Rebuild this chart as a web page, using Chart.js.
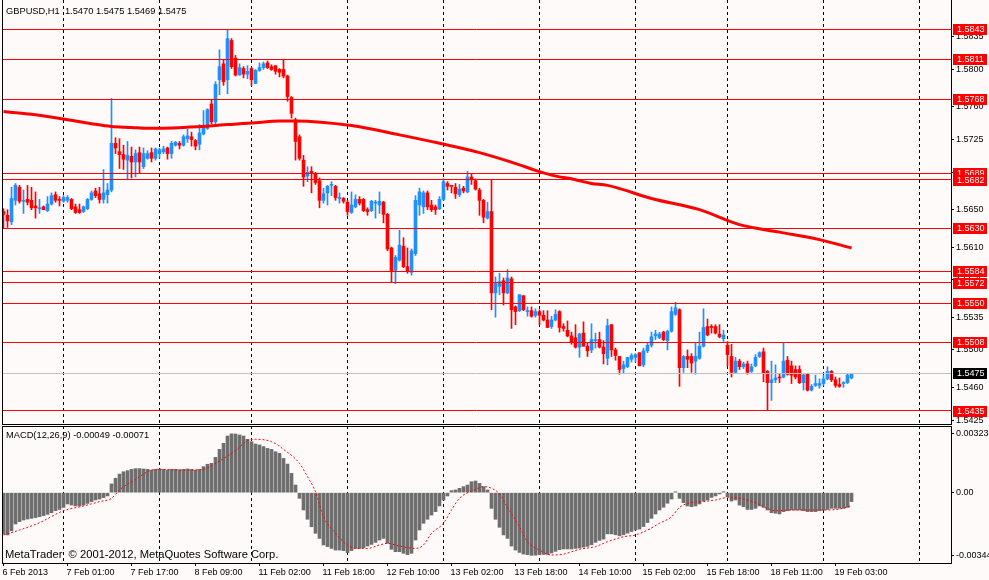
<!DOCTYPE html>
<html><head><meta charset="utf-8">
<script src="https://cdn.jsdelivr.net/npm/chart.js@4.4.1/dist/chart.umd.min.js"></script>
<style>
html,body{margin:0;padding:0;background:#FFFAFA;}
body{width:989px;height:580px;position:relative;overflow:hidden;font-family:"Liberation Sans",Arial,sans-serif;}
#wrapP{position:absolute;left:0;top:0;width:989px;height:425px;}
#wrapM{position:absolute;left:0;top:425px;width:989px;height:155px;}
.txt{position:absolute;white-space:pre;color:#000;font-size:9.3px;line-height:11px;pointer-events:none;}
</style></head><body>
<div id="wrapP"><canvas id="price" width="989" height="425"></canvas></div>
<div id="wrapM"><canvas id="macd" width="989" height="155"></canvas></div>
<div class="txt" style="left:6px;top:6px">GBPUSD,H1  1.5470 1.5475 1.5469 1.5475</div>
<div class="txt" style="left:6px;top:430px">MACD(12,26,9) -0.00049 -0.00071</div>
<div class="txt" style="left:5px;top:548px;font-size:11.2px;line-height:13px">MetaTrader  © 2001-2012, MetaQuotes Software Corp.</div>
<script>
// ---------- DATA ----------
const opens = [
1.5648,1.5644,1.5637,1.5660,1.5674,1.5659,1.5661,1.5660,1.5654,1.5651,
1.5653,1.5649,1.5656,1.5666,1.5661,1.5659,1.5660,1.5661,1.5653,1.5650,
1.5648,1.5651,1.5661,1.5670,1.5667,1.5661,1.5666,1.5671,1.5721,1.5712,
1.5709,1.5703,1.5707,1.5701,1.5711,1.5696,1.5705,1.5711,1.5705,1.5710,
1.5712,1.5716,1.5710,1.5719,1.5721,1.5719,1.5726,1.5728,1.5724,1.5720,
1.5731,1.5737,1.5763,1.5744,1.5789,1.5806,1.5789,1.5831,1.5812,1.5794,
1.5801,1.5795,1.5801,1.5785,1.5799,1.5802,1.5807,1.5803,1.5804,1.5800,
1.5800,1.5793,1.5770,1.5746,1.5728,1.5703,1.5686,1.5691,1.5688,1.5681,
1.5660,1.5668,1.5676,1.5675,1.5662,1.5662,1.5658,1.5647,1.5653,1.5661,
1.5661,1.5650,1.5649,1.5657,1.5655,1.5658,1.5645,1.5609,1.5585,1.5596,
1.5611,1.5589,1.5583,1.5603,1.5655,1.5653,1.5668,1.5655,1.5653,1.5651,
1.5661,1.5678,1.5676,1.5674,1.5666,1.5673,1.5669,1.5685,1.5681,1.5671,
1.5660,1.5641,1.5648,1.5561,1.5568,1.5574,1.5561,1.5576,1.5546,1.5542,
1.5558,1.5541,1.5542,1.5537,1.5541,1.5537,1.5532,1.5525,1.5532,1.5541,
1.5525,1.5521,1.5515,1.5513,1.5503,1.5518,1.5504,1.5500,1.5510,1.5511,
1.5503,1.5491,1.5527,1.5500,1.5493,1.5480,1.5482,1.5490,1.5492,1.5497,
1.5484,1.5499,1.5505,1.5515,1.5513,1.5519,1.5510,1.5520,1.5538,1.5543,
1.5481,1.5493,1.5493,1.5488,1.5491,1.5504,1.5525,1.5525,1.5525,1.5517,
1.5512,1.5505,1.5493,1.5476,1.5488,1.5482,1.5485,1.5477,1.5483,1.5493,
1.5498,1.5477,1.5465,1.5468,1.5471,1.5471,1.5489,1.5483,1.5479,1.5479,
1.5465,1.5475,1.5457,1.5462,1.5462,1.5464,1.5469,1.5477,1.5468,1.5463,
1.5464,1.5465,1.5470];
const highs = [
1.5651,1.5650,1.5674,1.5678,1.5676,1.5671,1.5676,1.5674,1.5669,1.5661,
1.5654,1.5664,1.5668,1.5669,1.5664,1.5665,1.5665,1.5662,1.5656,1.5656,
1.5654,1.5662,1.5670,1.5673,1.5674,1.5693,1.5678,1.5769,1.5727,1.5726,
1.5719,1.5723,1.5717,1.5714,1.5717,1.5716,1.5713,1.5716,1.5716,1.5716,
1.5718,1.5717,1.5723,1.5723,1.5723,1.5730,1.5736,1.5733,1.5725,1.5741,
1.5756,1.5758,1.5768,1.5787,1.5821,1.5810,1.5842,1.5833,1.5815,1.5806,
1.5803,1.5804,1.5802,1.5800,1.5807,1.5808,1.5809,1.5805,1.5804,1.5801,
1.5811,1.5794,1.5771,1.5748,1.5730,1.5708,1.5696,1.5696,1.5690,1.5684,
1.5673,1.5676,1.5680,1.5676,1.5668,1.5663,1.5660,1.5669,1.5666,1.5664,
1.5662,1.5652,1.5660,1.5660,1.5669,1.5659,1.5646,1.5610,1.5601,1.5628,
1.5620,1.5609,1.5608,1.5665,1.5673,1.5670,1.5670,1.5660,1.5655,1.5664,
1.5683,1.5680,1.5676,1.5678,1.5677,1.5675,1.5691,1.5688,1.5683,1.5673,
1.5661,1.5658,1.5682,1.5578,1.5582,1.5577,1.5586,1.5578,1.5547,1.5559,
1.5558,1.5546,1.5546,1.5544,1.5543,1.5542,1.5542,1.5536,1.5543,1.5542,
1.5528,1.5531,1.5519,1.5527,1.5518,1.5530,1.5507,1.5528,1.5518,1.5519,
1.5510,1.5533,1.5527,1.5502,1.5493,1.5488,1.5492,1.5496,1.5496,1.5497,
1.5502,1.5507,1.5519,1.5521,1.5519,1.5520,1.5521,1.5546,1.5551,1.5544,
1.5494,1.5500,1.5496,1.5507,1.5519,1.5544,1.5533,1.5527,1.5527,1.5527,
1.5521,1.5509,1.5506,1.5492,1.5490,1.5487,1.5488,1.5485,1.5495,1.5498,
1.5502,1.5478,1.5488,1.5484,1.5475,1.5508,1.5493,1.5488,1.5483,1.5483,
1.5475,1.5475,1.5463,1.5473,1.5469,1.5473,1.5482,1.5478,1.5471,1.5470,
1.5466,1.5474,1.5475];
const lows = [
1.5630,1.5631,1.5634,1.5655,1.5657,1.5646,1.5655,1.5650,1.5641,1.5646,
1.5650,1.5648,1.5655,1.5658,1.5654,1.5658,1.5658,1.5650,1.5646,1.5646,
1.5647,1.5650,1.5660,1.5663,1.5657,1.5657,1.5657,1.5669,1.5710,1.5694,
1.5693,1.5682,1.5684,1.5685,1.5689,1.5694,1.5704,1.5701,1.5703,1.5705,
1.5710,1.5704,1.5705,1.5718,1.5715,1.5718,1.5722,1.5718,1.5714,1.5714,
1.5730,1.5736,1.5742,1.5741,1.5773,1.5783,1.5774,1.5801,1.5793,1.5794,
1.5791,1.5790,1.5783,1.5785,1.5798,1.5800,1.5801,1.5799,1.5795,1.5792,
1.5791,1.5766,1.5748,1.5703,1.5703,1.5675,1.5680,1.5668,1.5677,1.5652,
1.5657,1.5655,1.5665,1.5660,1.5657,1.5657,1.5644,1.5646,1.5652,1.5655,
1.5648,1.5644,1.5648,1.5641,1.5646,1.5636,1.5606,1.5573,1.5571,1.5595,
1.5588,1.5582,1.5580,1.5601,1.5644,1.5646,1.5650,1.5648,1.5645,1.5650,
1.5660,1.5671,1.5668,1.5662,1.5664,1.5668,1.5668,1.5677,1.5671,1.5644,
1.5636,1.5640,1.5543,1.5535,1.5559,1.5548,1.5560,1.5523,1.5527,1.5541,
1.5542,1.5536,1.5535,1.5535,1.5527,1.5531,1.5524,1.5523,1.5531,1.5519,
1.5520,1.5514,1.5506,1.5502,1.5492,1.5504,1.5493,1.5497,1.5502,1.5502,
1.5485,1.5484,1.5493,1.5489,1.5474,1.5475,1.5481,1.5487,1.5487,1.5483,
1.5482,1.5497,1.5503,1.5511,1.5512,1.5510,1.5500,1.5519,1.5537,1.5461,
1.5476,1.5481,1.5476,1.5474,1.5490,1.5503,1.5515,1.5518,1.5517,1.5513,
1.5509,1.5483,1.5471,1.5475,1.5479,1.5480,1.5474,1.5476,1.5482,1.5492,
1.5466,1.5436,1.5446,1.5465,1.5465,1.5470,1.5473,1.5464,1.5469,1.5464,
1.5457,1.5456,1.5456,1.5461,1.5459,1.5462,1.5468,1.5466,1.5460,1.5460,
1.5460,1.5464,1.5469];
const closes = [
1.5645,1.5638,1.5662,1.5676,1.5659,1.5660,1.5658,1.5652,1.5652,1.5652,
1.5650,1.5656,1.5665,1.5660,1.5660,1.5663,1.5663,1.5651,1.5647,1.5647,
1.5653,1.5661,1.5668,1.5665,1.5661,1.5668,1.5671,1.5721,1.5716,1.5709,
1.5704,1.5708,1.5701,1.5710,1.5701,1.5710,1.5710,1.5705,1.5715,1.5714,
1.5715,1.5710,1.5721,1.5722,1.5719,1.5728,1.5729,1.5725,1.5718,1.5732,
1.5738,1.5757,1.5744,1.5784,1.5803,1.5787,1.5833,1.5803,1.5794,1.5802,
1.5795,1.5798,1.5789,1.5799,1.5802,1.5806,1.5802,1.5800,1.5798,1.5797,
1.5793,1.5771,1.5753,1.5723,1.5705,1.5685,1.5690,1.5689,1.5679,1.5660,
1.5667,1.5675,1.5677,1.5663,1.5663,1.5659,1.5648,1.5655,1.5661,1.5657,
1.5649,1.5648,1.5659,1.5658,1.5659,1.5645,1.5608,1.5584,1.5599,1.5612,
1.5589,1.5584,1.5606,1.5660,1.5669,1.5668,1.5653,1.5650,1.5650,1.5661,
1.5680,1.5675,1.5675,1.5667,1.5672,1.5670,1.5685,1.5682,1.5672,1.5660,
1.5642,1.5648,1.5561,1.5571,1.5573,1.5561,1.5577,1.5543,1.5541,1.5559,
1.5543,1.5542,1.5536,1.5541,1.5537,1.5532,1.5524,1.5532,1.5538,1.5524,
1.5523,1.5515,1.5508,1.5503,1.5517,1.5504,1.5499,1.5511,1.5511,1.5503,
1.5496,1.5526,1.5500,1.5494,1.5479,1.5484,1.5492,1.5494,1.5495,1.5483,
1.5499,1.5505,1.5514,1.5517,1.5517,1.5511,1.5520,1.5541,1.5545,1.5481,
1.5493,1.5490,1.5486,1.5493,1.5504,1.5524,1.5516,1.5524,1.5518,1.5514,
1.5516,1.5495,1.5476,1.5488,1.5482,1.5485,1.5476,1.5482,1.5492,1.5497,
1.5475,1.5465,1.5468,1.5470,1.5470,1.5488,1.5474,1.5473,1.5471,1.5465,
1.5473,1.5457,1.5461,1.5464,1.5464,1.5469,1.5477,1.5468,1.5462,1.5461,
1.5465,1.5473,1.5475];

// 200-period moving average, read at sample bars
const maIdx = [0,7,15,22,27,32,36,45,53,59,63,69,73,87,99,109,119,129,133,137,143,147,151,162,174,184,194,204,212];
const maVal = [1.5755,1.5752,1.5747,1.5742,1.5739,1.5738,1.5737,1.5738,1.5740,1.5742,1.5743,1.5745,1.5745,1.5740,1.5730,1.5721,1.5711,1.5698,1.5692,1.5687,1.5682,1.5678,1.5676,1.5662,1.5650,1.5634,1.5626,1.5618,1.5609];

// horizontal price levels and bid
const levels = [1.5843,1.5811,1.5768,1.5689,1.5682,1.5630,1.5584,1.5572,1.5550,1.5508,1.5435];
const bid = 1.5475;

// MACD histogram (one value per bar)
const macd = [
-0.00227,-0.00232,-0.00209,-0.00172,-0.00159,-0.00150,-0.00145,-0.00141,-0.00137,-0.00132,
-0.00126,-0.00119,-0.00110,-0.00099,-0.00092,-0.00081,-0.00062,-0.00068,-0.00073,-0.00073,
-0.00068,-0.00059,-0.00049,-0.00040,-0.00035,-0.00027,-0.00018,0.00048,0.00079,0.00102,
0.00115,0.00121,0.00128,0.00132,0.00132,0.00130,0.00128,0.00124,0.00128,0.00130,
0.00128,0.00124,0.00128,0.00128,0.00126,0.00128,0.00130,0.00128,0.00124,0.00128,
0.00143,0.00156,0.00161,0.00194,0.00238,0.00271,0.00311,0.00323,0.00322,0.00317,
0.00311,0.00293,0.00280,0.00267,0.00262,0.00253,0.00243,0.00238,0.00225,0.00216,
0.00188,0.00157,0.00106,0.00042,-0.00031,-0.00095,-0.00146,-0.00187,-0.00223,-0.00251,
-0.00287,-0.00296,-0.00306,-0.00315,-0.00315,-0.00318,-0.00329,-0.00318,-0.00306,-0.00306,
-0.00302,-0.00293,-0.00284,-0.00273,-0.00260,-0.00251,-0.00278,-0.00311,-0.00324,-0.00324,
-0.00333,-0.00340,-0.00333,-0.00260,-0.00205,-0.00168,-0.00146,-0.00123,-0.00104,-0.00073,
-0.00040,-0.00018,0.00011,0.00015,0.00024,0.00033,0.00042,0.00060,0.00064,0.00051,
0.00033,0.00015,-0.00086,-0.00146,-0.00190,-0.00232,-0.00251,-0.00293,-0.00315,-0.00328,
-0.00337,-0.00340,-0.00344,-0.00343,-0.00340,-0.00339,-0.00339,-0.00331,-0.00322,-0.00313,
-0.00309,-0.00309,-0.00309,-0.00306,-0.00304,-0.00299,-0.00295,-0.00286,-0.00273,-0.00262,
-0.00255,-0.00226,-0.00226,-0.00231,-0.00237,-0.00231,-0.00222,-0.00213,-0.00204,-0.00200,
-0.00186,-0.00164,-0.00141,-0.00117,-0.00095,-0.00080,-0.00058,-0.00035,0.00005,-0.00031,
-0.00055,-0.00073,-0.00077,-0.00073,-0.00062,-0.00046,-0.00040,-0.00026,-0.00018,-0.00007,
0.00005,-0.00022,-0.00046,-0.00040,-0.00068,-0.00077,-0.00092,-0.00092,-0.00086,-0.00073,
-0.00081,-0.00095,-0.00110,-0.00113,-0.00117,-0.00104,-0.00099,-0.00095,-0.00095,-0.00095,
-0.00099,-0.00104,-0.00104,-0.00104,-0.00099,-0.00095,-0.00092,-0.00086,-0.00086,-0.00086,
-0.00086,-0.00081,-0.00049];

// MACD signal line, read at sample bars
const sigIdx = [0,4,9,15,20,24,27,29,33,37,39,45,50,53,58,61,63,67,70,74,76,78,80,83,86,88,91,94,96,99,103,105,107,110,112,114,118,120,122,124,126,129,131,134,137,140,144,148,151,155,158,161,164,167,169,171,175,178,181,184,188,191,193,197,201,205,209,212];
const sigVal = [-0.00232,-0.00205,-0.00165,-0.00099,-0.00073,-0.00049,-0.00031,0.00015,0.00073,0.00124,0.00128,0.00124,0.00128,0.00161,0.00231,0.00285,0.00293,0.00280,0.00238,0.00161,0.00088,0.00005,-0.00132,-0.00223,-0.00287,-0.00306,-0.00306,-0.00287,-0.00278,-0.00293,-0.00306,-0.00287,-0.00223,-0.00168,-0.00095,-0.00031,0.00018,0.00033,0.00024,-0.00007,-0.00081,-0.00187,-0.00269,-0.00315,-0.00342,-0.00337,-0.00311,-0.00296,-0.00269,-0.00242,-0.00232,-0.00205,-0.00168,-0.00132,-0.00081,-0.00059,-0.00049,-0.00040,-0.00027,-0.00031,-0.00055,-0.00086,-0.00099,-0.00095,-0.00095,-0.00095,-0.00090,-0.00071];

// axis ticks
const priceTicks = [1.5835,1.5800,1.5760,1.5725,1.5690,1.5650,1.5610,1.5575,1.5535,1.5500,1.5460,1.5425];
const macdTicks = [0.00323,0,-0.00344];
const tickIdx = [0,16,32,48,64,80,96,112,128,144,160,176,192,208];
const tickLabels = ["6 Feb 2013","7 Feb 01:00","7 Feb 17:00","8 Feb 09:00","11 Feb 02:00","11 Feb 18:00","12 Feb 10:00","13 Feb 02:00","13 Feb 18:00","14 Feb 10:00","15 Feb 02:00","15 Feb 18:00","18 Feb 11:00","19 Feb 03:00"];
const dayGrid = [15,39,62,86,110,134,158,181,205,229];

// ---------- CHARTS ----------
const FONT = '"Liberation Sans", Arial, sans-serif';
Chart.defaults.font.family = FONT;
Chart.defaults.font.size = 9;
Chart.defaults.color = '#000';

const X_MIN = -0.375, X_MAX = 236.875;
const P_MIN = 1.542075, P_MAX = 1.58743;
const M_MIN = -0.00386, M_MAX = 0.00366;

const idx = closes.map((_, i) => i);
const candleColor = idx.map(i => closes[i] >= opens[i] ? '#1E90FF' : '#FF0000');

const framePlugin = sides => ({
  id: 'frame',
  afterDraw(chart) {
    const {ctx, chartArea: a} = chart;
    ctx.save();
    ctx.strokeStyle = '#000'; ctx.lineWidth = 1;
    ctx.beginPath();
    if (sides.includes('l')) { ctx.moveTo(a.left + 0.5, a.top); ctx.lineTo(a.left + 0.5, a.bottom); }
    if (sides.includes('t')) { ctx.moveTo(a.left, a.top + 0.5); ctx.lineTo(a.right, a.top + 0.5); }
    ctx.stroke();
    ctx.restore();
  }
});

// keep the 1px horizontal level lines crisp (pixel snapping of the scale positions)
const snapLines = {
  id: 'snapLines',
  afterDatasetsUpdate(chart) {
    chart.data.datasets.forEach((ds, di) => {
      if (!ds.snap) return;
      chart.getDatasetMeta(di).data.forEach(pt => { pt.y = Math.round(pt.y - 0.5) + 0.5; });
    });
  }
};

const priceTags = {
  id: 'priceTags',
  afterDraw(chart) {
    const ys = chart.scales.y, ctx = chart.ctx, x0 = chart.chartArea.right + 2;
    ctx.save();
    ctx.font = '9px ' + FONT;
    ctx.textBaseline = 'middle';
    const tag = (v, bg) => {
      const py = Math.round(ys.getPixelForValue(v));
      ctx.fillStyle = bg; ctx.fillRect(x0, py - 5, 34, 11);
      ctx.fillStyle = '#FFFFFF'; ctx.fillText(v.toFixed(4), x0 + 4, py + 0.5);
    };
    levels.forEach(l => tag(l, '#FF0000'));
    tag(bid, '#000000');
    ctx.restore();
  }
};

const hline = (v, color) => ({
  type: 'line', snap: true, data: [{x: X_MIN, y: v}, {x: X_MAX, y: v}],
  borderColor: color, borderWidth: 1, pointRadius: 0, order: 1
});

new Chart(document.getElementById('price'), {
  type: 'bar',
  data: { datasets: [
    ...levels.map(l => hline(l, '#FF0000')),
    hline(bid, '#C0C0C0'),
    { type: 'line', data: maIdx.map((x, k) => ({x, y: maVal[k]})), borderColor: '#FF0000', borderWidth: 3,
      pointRadius: 0, cubicInterpolationMode: 'monotone', order: 2 },
    { type: 'bar', data: idx.map(i => ({x: i, y: [opens[i], closes[i]]})), backgroundColor: candleColor,
      barThickness: 3, minBarLength: 1, grouped: false, order: 3 },
    { type: 'bar', data: idx.map(i => ({x: i, y: [lows[i], highs[i]]})), backgroundColor: candleColor,
      barThickness: 1, grouped: false, order: 4 }
  ]},
  options: {
    responsive: false, animation: false, devicePixelRatio: 1, events: [],
    layout: { padding: {left: 2, top: 0, right: 0, bottom: 1}, autoPadding: false },
    plugins: { legend: {display: false}, tooltip: {enabled: false} },
    scales: {
      x: { type: 'linear', min: X_MIN, max: X_MAX, offset: false, bounds: 'data', position: 'bottom',
        afterBuildTicks: s => { s.ticks = dayGrid.map(v => ({value: v})); },
        afterFit: s => { s.height = 0; s.paddingLeft = 0; s.paddingRight = 0; },
        ticks: {display: false},
        grid: {display: true, color: '#000', lineWidth: 1, drawTicks: false, offset: false},
        border: {display: true, color: '#000', dash: [3, 3]} },
      y: { type: 'linear', position: 'right', min: P_MIN, max: P_MAX, beginAtZero: false, bounds: 'data',
        afterBuildTicks: s => { s.ticks = priceTicks.map(v => ({value: v})); },
        afterFit: s => { s.width = 38; s.paddingTop = 0; s.paddingBottom = 0; },
        ticks: {callback: v => v.toFixed(4), padding: 2, autoSkip: false},
        grid: {drawOnChartArea: false, drawTicks: true, tickLength: 3, color: '#000'},
        border: {display: true, color: '#000'} }
    }
  },
  plugins: [snapLines, framePlugin('l'), priceTags]
});

new Chart(document.getElementById('macd'), {
  type: 'bar',
  data: { datasets: [
    { type: 'line', xAxisID: 'x', data: sigIdx.map((x, k) => ({x, y: sigVal[k]})), borderColor: '#FF0000',
      borderWidth: 1, borderDash: [2, 2], pointRadius: 0, cubicInterpolationMode: 'monotone', order: 1 },
    { type: 'bar', xAxisID: 'x', data: idx.map(i => ({x: i, y: macd[i]})), backgroundColor: '#6E6E6E',
      barThickness: 3, grouped: false, order: 2 }
  ]},
  options: {
    responsive: false, animation: false, devicePixelRatio: 1, events: [],
    layout: { padding: {left: 2, top: 1, right: 0, bottom: 0}, autoPadding: false },
    plugins: { legend: {display: false}, tooltip: {enabled: false} },
    scales: {
      x: { type: 'linear', min: X_MIN, max: X_MAX, offset: false, bounds: 'data', position: 'bottom',
        afterBuildTicks: s => { s.ticks = tickIdx.map(v => ({value: v})); },
        afterFit: s => { s.height = 17; s.paddingLeft = 0; s.paddingRight = 0; },
        ticks: {callback: (v, i) => tickLabels[i], align: 'start', labelOffset: -1, padding: 1,
          autoSkip: false, maxRotation: 0, minRotation: 0},
        grid: {drawOnChartArea: false, drawTicks: true, tickLength: 3, color: '#000', offset: false},
        border: {display: true, color: '#000'} },
      xg: { type: 'linear', axis: 'x', min: X_MIN, max: X_MAX, offset: false, bounds: 'data', position: 'top',
        afterBuildTicks: s => { s.ticks = dayGrid.map(v => ({value: v})); },
        afterFit: s => { s.height = 0; s.paddingLeft = 0; s.paddingRight = 0; },
        ticks: {display: false},
        grid: {display: true, color: '#000', lineWidth: 1, drawTicks: false, offset: false},
        border: {display: false, dash: [3, 3]} },
      y: { type: 'linear', position: 'right', min: M_MIN, max: M_MAX, beginAtZero: false, bounds: 'data',
        afterBuildTicks: s => { s.ticks = macdTicks.map(v => ({value: v})); },
        afterFit: s => { s.width = 38; s.paddingTop = 0; s.paddingBottom = 0; },
        ticks: {callback: v => v === 0 ? '0.00' : v.toFixed(5), padding: 2, autoSkip: false},
        grid: {drawOnChartArea: false, drawTicks: true, tickLength: 3, color: '#000'},
        border: {display: true, color: '#000'} }
    }
  },
  plugins: [framePlugin('lt')]
});
</script>
</body></html>
